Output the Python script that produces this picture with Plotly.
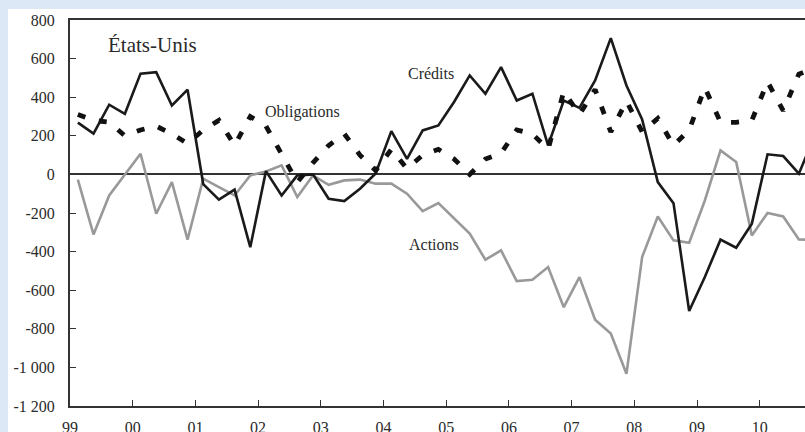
import plotly.graph_objects as go

# Quarterly positions (mid-quarter), 1999Q1 .. 2010Q4
years = list(range(1999, 2011))
quarters = [y + (q - 0.5) / 4 for y in years for q in range(1, 5)]

credits = [268, 211, 361, 314, 522, 530, 357, 439,
           -50, -131, -79, -377, 17, -109, -5, 0,
           -126, -138, -74, 5, 224, 81, 228, 254,
           375, 513, 418, 556, 383, 418, 150, 383,
           345, 487, 706, 461, 285, -40, -149, -708,
           -532, -338, -380, -255, 104, 95, 4, 200]

obligations = [310, 280, 270, 200, 230, 250, 210, 160,
               230, 280, 150, 300, 250, 100, -40, 60,
               150, 210, 100, 20, 130, 30, 100, 130,
               80, 0, 80, 110, 230, 210, 130, 430,
               310, 440, 220, 380, 220, 290, 150, 230,
               450, 270, 270, 280, 480, 330, 520, 550]

actions = [-27, -311, -109, 0, 107, -204, -40, -338,
           -22, -66, -109, -5, 15, 47, -117, -5,
           -54, -31, -27, -48, -48, -100, -190, -149,
           -230, -307, -442, -394, -553, -546, -480, -688,
           -532, -753, -825, -1033, -428, -218, -342, -354,
           -135, 124, 64, -316, -200, -218, -337, -340]

x_tickvals = years
x_ticktext = ["99", "00", "01", "02", "03", "04", "05", "06", "07", "08", "09", "10"]
y_tickvals = [800, 600, 400, 200, 0, -200, -400, -600, -800, -1000, -1200]
y_ticktext = ["800", "600", "400", "200", "0", "-200", "-400", "-600", "-800", "-1 000", "-1 200"]

FONT = "Liberation Serif"
TXT = "#2a2a2a"

fig = go.Figure()
fig.add_trace(go.Scatter(x=quarters, y=actions, mode="lines", name="Actions",
                         line=dict(color="#999999", width=2.6)))
fig.add_trace(go.Scatter(x=quarters, y=credits, mode="lines", name="Crédits",
                         line=dict(color="#1a1a1a", width=2.6)))
fig.add_trace(go.Scatter(x=quarters, y=obligations, mode="lines", name="Obligations",
                         line=dict(color="#111111", width=4.8, dash="8px,14px")))

fig.update_layout(
    width=805, height=432,
    margin=dict(l=70, r=0, t=20, b=26),
    paper_bgcolor="#dde8f7",
    plot_bgcolor="white",
    showlegend=False,
    font=dict(family=FONT, color=TXT, size=16),
    shapes=[dict(type="rect", xref="paper", yref="paper", layer="below",
                 x0=-62 / 735, x1=1.01, y0=-0.2, y1=(432 - 20 - 26 + 11) / 386,
                 fillcolor="white", line=dict(width=0))],
    annotations=[
        dict(x=2000.31, y=668, text="États-Unis", showarrow=False,
             font=dict(family=FONT, size=21, color=TXT)),
        dict(x=2004.76, y=523, text="Crédits", showarrow=False,
             font=dict(family=FONT, size=16, color=TXT)),
        dict(x=2002.71, y=321, text="Obligations", showarrow=False,
             font=dict(family=FONT, size=16, color=TXT)),
        dict(x=2004.81, y=-363, text="Actions", showarrow=False,
             font=dict(family=FONT, size=16, color=TXT)),
    ],
)

fig.update_xaxes(
    range=[1999, 1999 + 735 / 62.7],
    tickvals=x_tickvals, ticktext=x_ticktext,
    ticks="inside", ticklen=6, tickwidth=1.2, tickcolor="#333",
    showline=True, linecolor="#333", linewidth=2, mirror=True,
    showgrid=False, zeroline=False, automargin=False,
    ticklabelstandoff=6,
    tickfont=dict(family=FONT, size=16, color=TXT),
)
fig.update_yaxes(
    range=[-1200, 800],
    tickvals=y_tickvals, ticktext=y_ticktext,
    ticks="inside", ticklen=6, tickwidth=1.2, tickcolor="#333",
    showline=True, linecolor="#333", linewidth=2,
    showgrid=False, zeroline=True, zerolinecolor="#333", zerolinewidth=1.6,
    automargin=False,
    ticklabelstandoff=10,
    tickfont=dict(family=FONT, size=16, color=TXT),
)

fig.write_html(
    "out.html",
    config={"displayModeBar": False},
    post_script="document.body.style.margin='0';document.body.style.overflow='hidden';",
)
